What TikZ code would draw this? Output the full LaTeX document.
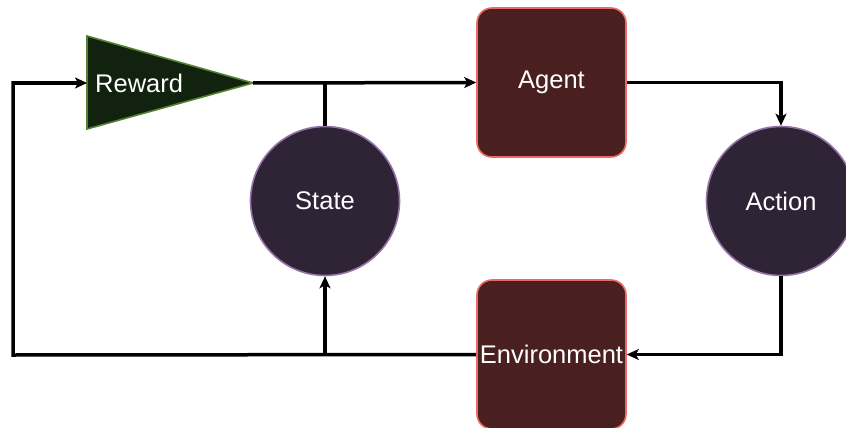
\documentclass[tikz,border=0pt]{standalone}
\usepackage{fontspec}
\setmainfont{Liberation Sans}
\usetikzlibrary{arrows.meta,shapes.geometric}
\definecolor{rewfill}{RGB}{17,35,15}
\definecolor{rewdraw}{RGB}{82,130,50}
\definecolor{boxfill}{RGB}{74,31,31}
\definecolor{boxdraw}{RGB}{234,107,102}
\definecolor{circfill}{RGB}{47,35,54}
\definecolor{circdraw}{RGB}{150,115,166}
\tikzset{
  lbl/.style={text=white,font=\fontsize{25.5}{30}\selectfont},
  boxnode/.style={lbl,draw=boxdraw,fill=boxfill,line width=1.6pt,rounded corners=15pt,minimum width=149pt,minimum height=149pt,inner sep=0pt},
  circnode/.style={lbl,circle,draw=circdraw,fill=circfill,line width=1.6pt,minimum size=149pt,inner sep=0pt},
  conn/.style={line width=3.5pt,-{Stealth[length=12pt,width=11pt,inset=3pt]}},
  plain/.style={line width=3.5pt}
}
\begin{document}
\begin{tikzpicture}[x=1pt,y=-1pt]
\useasboundingbox (0,0) rectangle (846,428);
\clip (0,0) rectangle (846,428);
% reward triangle
\draw[draw=rewdraw,fill=rewfill,line width=1.6pt] (87,36) -- (253,83) -- (87,129) -- cycle;
\coordinate (rewL) at (87,83);
\coordinate (rewR) at (253,83);
\node[lbl,anchor=west,inner sep=0pt] (reward) at (95,83) {Reward};
\node[boxnode] (agent) at (551.5,82.5) {Agent};
\node[boxnode] (env) at (551.5,354.5) {Environment};
\node[circnode] (state) at (325,201) {State};
\node[circnode] (action) at (781,201) {Action};
\coordinate (split) at (325,83);
\coordinate (join) at (325,355);
\coordinate (lb) at (13,355);
\coordinate (lt) at (13,83);
% connectors
\draw[conn] (rewR) -- (agent.west);
\draw[plain] (split) -- (state.north);
\draw[conn] (agent.east) -| (action.north);
\draw[conn] (action.south) |- (env.east);
\draw[conn] (env.west) -- (lb) -- (lt) -- (rewL);
\draw[conn] (join) -- (state.south);
\end{tikzpicture}
\end{document}
